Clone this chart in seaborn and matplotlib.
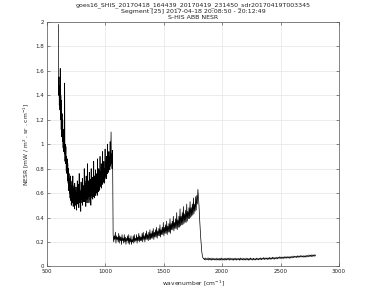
import numpy as np
import pandas as pd
import matplotlib
matplotlib.use("Agg")
import matplotlib.pyplot as plt
import seaborn as sns

# ---- data ----
title_lines = [
    "goes16_SHIS_20170418_164439_20170419_231450_sdr20170419T003345",
    "Segment [25] 2017-04-18 20:08:50 - 20:12:49",
    "S-HIS ABB NESR",
]
x_ticks = [500, 1000, 1500, 2000, 2500, 3000]
y_ticks = [0, 0.2, 0.4, 0.6, 0.8, 1, 1.2, 1.4, 1.6, 1.8, 2]
y_tick_labels = ["0", "0.2", "0.4", "0.6", "0.8", "1", "1.2", "1.4", "1.6", "1.8", "2"]

# band 1: evenly sampled from 598 to 1063 cm-1
band1_range = (598, 1063)
band1_nesr = [
    1.98, 1.40, 1.55, 1.32, 1.48, 1.28, 1.62, 1.20, 1.40, 1.12,
    1.36, 1.06, 1.25, 1.02, 1.20, 0.97, 1.12, 0.94, 1.05, 0.92,
    1.50, 0.86, 1.00, 0.84, 0.98, 0.78, 0.90, 0.76, 0.88, 0.70,
    0.84, 0.68, 0.80, 0.62, 0.76, 0.60, 0.72, 0.56, 0.74, 0.54,
    0.70, 0.50, 0.66, 0.55, 0.69, 0.52, 0.74, 0.49, 0.64, 0.51,
    0.66, 0.47, 0.68, 0.53, 0.62, 0.50, 0.65, 0.46, 0.60, 0.52,
    0.70, 0.51, 0.65, 0.55, 0.67, 0.48, 0.76, 0.52, 0.63, 0.54,
    0.61, 0.45, 0.69, 0.55, 0.66, 0.52, 0.72, 0.50, 0.64, 0.53,
    0.66, 0.54, 0.80, 0.53, 0.70, 0.56, 0.68, 0.49, 0.74, 0.56,
    0.62, 0.52, 0.84, 0.55, 0.68, 0.57, 0.70, 0.52, 0.77, 0.57,
    0.65, 0.54, 0.71, 0.50, 0.80, 0.58, 0.67, 0.56, 0.73, 0.55,
    0.69, 0.57, 0.86, 0.60, 0.74, 0.56, 0.70, 0.58, 0.79, 0.62,
    0.72, 0.60, 0.76, 0.58, 0.88, 0.64, 0.75, 0.61, 0.80, 0.62,
    0.78, 0.63, 0.90, 0.66, 0.77, 0.65, 0.84, 0.64, 0.80, 0.67,
    0.94, 0.70, 0.82, 0.69, 0.86, 0.68, 0.80, 0.71, 0.96, 0.74,
    0.85, 0.72, 0.90, 0.72, 0.84, 0.76, 1.00, 0.78, 0.88, 0.77,
    0.94, 0.80, 0.90, 0.79, 1.02, 0.82, 0.95, 1.10, 0.84, 0.92,
    0.80, 0.95, 0.82,
]
# band 2: evenly sampled from 1067 to 1840 cm-1
band2_range = (1067, 1840)
band2_nesr = [
    0.26, 0.20, 0.25, 0.22, 0.28, 0.19, 0.25, 0.22, 0.24, 0.20,
    0.27, 0.19, 0.25, 0.21, 0.24, 0.18, 0.26, 0.21, 0.23, 0.19,
    0.26, 0.20, 0.24, 0.18, 0.23, 0.21, 0.25, 0.19, 0.26, 0.18,
    0.23, 0.20, 0.25, 0.18, 0.22, 0.20, 0.25, 0.19, 0.26, 0.20,
    0.23, 0.21, 0.26, 0.19, 0.24, 0.21, 0.27, 0.20, 0.25, 0.21,
    0.24, 0.21, 0.27, 0.20, 0.28, 0.22, 0.25, 0.20, 0.27, 0.22,
    0.29, 0.22, 0.26, 0.21, 0.28, 0.22, 0.30, 0.22, 0.27, 0.23,
    0.29, 0.23, 0.31, 0.22, 0.28, 0.24, 0.30, 0.24, 0.32, 0.23,
    0.29, 0.25, 0.31, 0.25, 0.34, 0.24, 0.30, 0.26, 0.32, 0.26,
    0.36, 0.25, 0.32, 0.27, 0.34, 0.27, 0.37, 0.26, 0.33, 0.28,
    0.35, 0.28, 0.39, 0.27, 0.35, 0.30, 0.37, 0.30, 0.41, 0.29,
    0.36, 0.31, 0.39, 0.31, 0.44, 0.30, 0.38, 0.32, 0.41, 0.32,
    0.47, 0.33, 0.41, 0.34, 0.44, 0.34, 0.49, 0.35, 0.43, 0.36,
    0.46, 0.36, 0.51, 0.37, 0.45, 0.39, 0.48, 0.39, 0.53, 0.40,
    0.48, 0.41, 0.51, 0.42, 0.56, 0.43, 0.51, 0.45, 0.57, 0.46,
    0.58, 0.51, 0.63, 0.56, 0.50, 0.40, 0.32, 0.24, 0.18, 0.12,
    0.09, 0.07, 0.065,
]
# band 3: evenly sampled from 1842 to 2800 cm-1
band3_range = (1842, 2800)
band3_nesr = [
    0.066, 0.054, 0.069, 0.052, 0.064, 0.055, 0.070, 0.051, 0.066, 0.053,
    0.068, 0.050, 0.065, 0.054, 0.067, 0.052, 0.063, 0.051, 0.068, 0.053,
    0.064, 0.050, 0.066, 0.052, 0.069, 0.051, 0.064, 0.053, 0.067, 0.050,
    0.065, 0.052, 0.068, 0.054, 0.066, 0.051, 0.069, 0.053, 0.064, 0.052,
    0.067, 0.050, 0.065, 0.053, 0.068, 0.051, 0.064, 0.054, 0.066, 0.050,
    0.069, 0.052, 0.065, 0.053, 0.067, 0.051, 0.064, 0.052, 0.068, 0.053,
    0.065, 0.050, 0.066, 0.052, 0.069, 0.054, 0.065, 0.051, 0.067, 0.053,
    0.064, 0.052, 0.068, 0.054, 0.066, 0.053,
    0.067, 0.055, 0.070, 0.054, 0.068, 0.057, 0.072, 0.056, 0.070, 0.058,
    0.069, 0.056, 0.071, 0.057, 0.073, 0.058, 0.071, 0.059, 0.075, 0.060,
    0.074, 0.059, 0.072, 0.061, 0.076, 0.062, 0.075, 0.064, 0.079, 0.065,
    0.077, 0.063, 0.076, 0.065, 0.080, 0.066, 0.078, 0.067, 0.081, 0.068,
    0.078, 0.066, 0.082, 0.068, 0.080, 0.070, 0.085, 0.071, 0.083, 0.073,
    0.084, 0.072, 0.087, 0.073, 0.085, 0.075, 0.089, 0.076, 0.087, 0.077,
    0.088, 0.074, 0.086, 0.076, 0.091, 0.077, 0.089, 0.079, 0.094, 0.080,
    0.092, 0.079, 0.096, 0.081, 0.093, 0.082, 0.097, 0.085,
]

# ---- build table ----
wn = np.concatenate([
    np.linspace(*band1_range, len(band1_nesr)),
    np.linspace(*band2_range, len(band2_nesr)),
    np.linspace(*band3_range, len(band3_nesr)),
])
nesr = np.concatenate([band1_nesr, band2_nesr, band3_nesr])
df = pd.DataFrame({"wavenumber": wn, "nesr": nesr})

# ---- style ----
sns.set_theme(style="whitegrid")
plt.rcParams["font.family"] = ["DejaVu Sans"]
plt.rcParams.update({
    "axes.edgecolor": "#555555",
    "axes.linewidth": 0.5,
    "grid.color": "#e4e4e4",
    "grid.linewidth": 0.5,
    "xtick.direction": "in",
    "ytick.direction": "in",
})

fig = plt.figure(figsize=(3.75, 3.01), dpi=100)
fig.patch.set_facecolor("white")
ax = fig.add_axes([0.125, 0.115, 0.779, 0.812])

sns.lineplot(data=df, x="wavenumber", y="nesr", color="black",
             linewidth=0.5, sort=False, estimator=None, ax=ax)

ax.set_xlim(500, 3000)
ax.set_ylim(0, 2)
ax.set_xticks(x_ticks)
ax.set_xticklabels([str(t) for t in x_ticks])
ax.set_yticks(y_ticks)
ax.set_yticklabels(y_tick_labels)
ax.tick_params(axis="both", labelsize=4, length=2, width=0.4, pad=2,
               colors="#333333", labelcolor="#222222")
ax.tick_params(axis="both", which="both", bottom=True, left=True,
               top=True, right=True, labelbottom=True, labelleft=True,
               labeltop=False, labelright=False)
for s in ax.spines.values():
    s.set_visible(True)
    s.set_color("#555555")
    s.set_linewidth(0.5)

ax.set_xlabel("wavenumber [cm$^{-1}$]", fontsize=4.3, labelpad=3, color="#222222")
ax.set_ylabel("NESR [mW / m$^{2}$ . sr . cm$^{-1}$]", fontsize=4.3, labelpad=3,
              color="#222222")
ax.set_title("\n".join(title_lines), fontsize=4.5, linespacing=1.25, pad=2.5,
             color="#222222")

fig.savefig("out.png", dpi=100, facecolor="white")
